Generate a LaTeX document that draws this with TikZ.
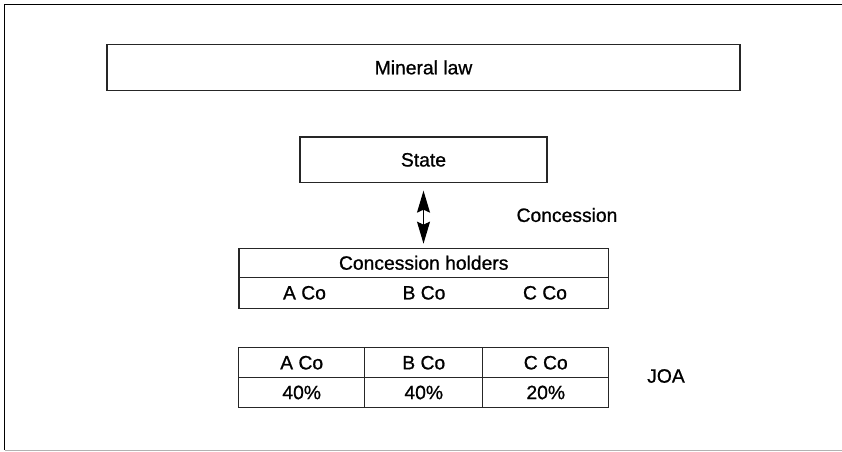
\documentclass[tikz,border=0pt]{standalone}
\usepackage{fontspec}
\setmainfont{Liberation Sans}[BoldFont={Liberation Sans}, BoldFeatures={FakeBold=0.9}]
\usetikzlibrary{arrows.meta}
\begin{document}
\begin{tikzpicture}[x=1pt,y=-1pt,
  box/.style={draw=black!85, line width=1.3pt, inner sep=0pt, font=\fontsize{19.3}{22}\selectfont\bfseries},
  lbl/.style={inner sep=0pt, font=\fontsize{19.3}{22}\selectfont\bfseries},
  dbl/.style={line width=1.1pt, {Stealth[length=22pt,width=13pt,inset=3pt]}-{Stealth[length=22pt,width=13pt,inset=3pt]}}]
\useasboundingbox (0,0) rectangle (842,451);
% outer frame
\draw[line width=1.5pt] (842,4.7) -- (4.7,4.7) -- (4.7,450);
\draw[black!30,line width=1pt] (4.7,450) -- (842,450);
% boxes
\node[box, minimum width=633pt, minimum height=46pt] (law) at (423.5,67.4) {Mineral law};
\node[box, minimum width=247pt, minimum height=45.7pt] (state) at (423.5,159.85) {State};
\node[box, minimum width=369.5pt, minimum height=29pt] (chead) at (423.75,262.8) {Concession holders};
\node[box, minimum width=369.5pt, minimum height=31pt] (crow) at (423.75,292.8) {};
\node[lbl] (ca) at (304.5,292.8) {A Co};
\node[lbl] (cb) at (424,292.8) {B Co};
\node[lbl] (cc) at (545,292.8) {C Co};
% JOA table
\node[box, minimum width=126pt, minimum height=30pt] (ja) at (301.7,362.7) {A Co};
\node[box, minimum width=118.1pt, minimum height=30pt] (jb) at (423.75,362.7) {B Co};
\node[box, minimum width=125.9pt, minimum height=30pt] (jc) at (545.75,362.7) {C Co};
\node[box, minimum width=126pt, minimum height=29.6pt] (pa) at (301.7,392.5) {40\%};
\node[box, minimum width=118.1pt, minimum height=29.6pt] (pb) at (423.75,392.5) {40\%};
\node[box, minimum width=125.9pt, minimum height=29.6pt] (pc) at (545.75,392.5) {20\%};
% labels
\node[lbl] (conc) at (567,215) {Concession};
\node[lbl] (joa) at (666,376) {JOA};
% arrow
\draw[dbl, shorten <=7.3pt, shorten >=4pt] (state.south) -- (state.south |- chead.north);
\end{tikzpicture}
\end{document}
